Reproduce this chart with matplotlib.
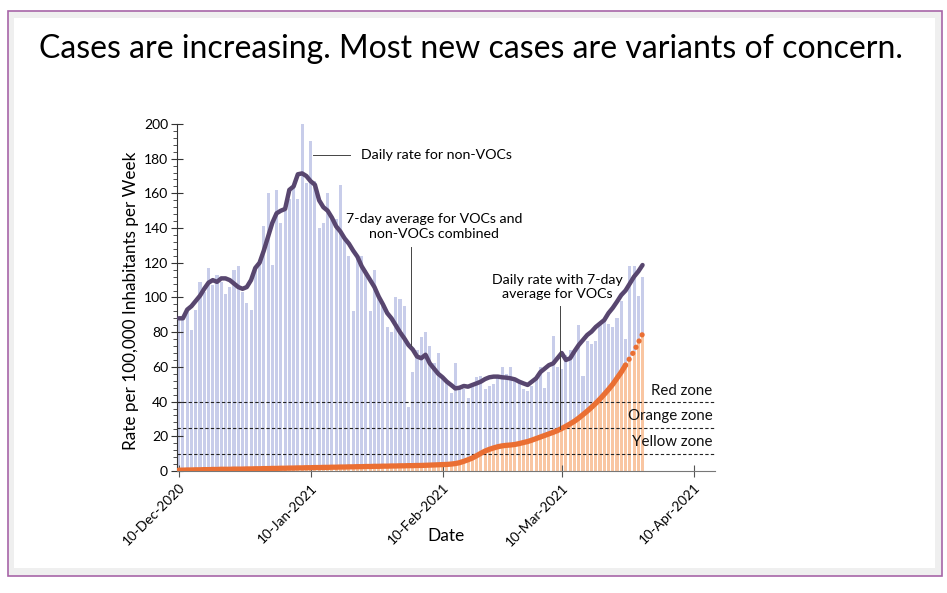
import matplotlib
matplotlib.use("Agg")
import matplotlib.pyplot as plt
import matplotlib.dates as mdates
from matplotlib.patches import Rectangle
from matplotlib.ticker import MultipleLocator
import pandas as pd

plt.rcParams['font.family'] = ['Lato', 'DejaVu Sans']

# ------------------------------------------------------------------------------------------
# data (one value per day, starting 10-Dec-2020)
start_date = "2020-12-10"

daily_rate = [88, 88, 92, 81, 93, 109, 103, 117, 107, 113,
              109, 102, 106, 116, 118, 103, 97, 93, 118, 120,
              141, 160, 119, 162, 143, 150, 157, 164, 157, 200,
              166, 190, 167, 140, 143, 160, 147, 145, 165, 135,
              124, 92, 123, 124, 116, 92, 116, 100, 95, 83,
              80, 100, 99, 95, 37, 57, 70, 77, 80, 72,
              62, 68, 54, 51, 45, 62, 49, 47, 42, 50,
              54, 55, 47, 49, 50, 54, 60, 56, 60, 52,
              51, 47, 46, 49, 54, 60, 48, 57, 78, 60,
              59, 67, 70, 70, 84, 55, 75, 73, 75, 84,
              87, 85, 83, 88, 98, 76, 118, 118, 101, 112]

voc_avg = [0.5, 0.5, 0.6, 0.6, 0.7, 0.7, 0.8, 0.8, 0.9, 0.9,
           1.0, 1.0, 1.0, 1.1, 1.1, 1.1, 1.2, 1.2, 1.3, 1.3,
           1.4, 1.4, 1.5, 1.5, 1.6, 1.6, 1.7, 1.7, 1.8, 1.8,
           1.9, 1.9, 2.0, 2.0, 2.1, 2.1, 2.2, 2.2, 2.3, 2.3,
           2.4, 2.4, 2.5, 2.5, 2.6, 2.6, 2.7, 2.7, 2.8, 2.8,
           2.9, 2.9, 3.0, 3.0, 3.1, 3.1, 3.2, 3.2, 3.3, 3.4,
           3.5, 3.6, 3.7, 3.8, 4.0, 4.3, 4.8, 5.6, 6.5, 7.5,
           8.8, 10.2, 11.5, 12.5, 13.3, 14.0, 14.5, 14.8, 15.0, 15.3,
           15.8, 16.4, 17.0, 17.8, 18.7, 19.6, 20.5, 21.4, 22.3, 23.3,
           24.5, 25.8, 27.2, 28.7, 30.5, 32.5, 34.5, 36.7, 39.0, 41.5,
           44.2, 47.0, 50.0, 53.5, 57.0, 61.0, 65.0, 69.0, 74.0, 79.0]

total_avg = [88, 88, 93, 95, 98, 101, 105, 108.5, 110, 109,
             111, 111, 110, 108, 106, 105, 106, 110, 117, 120,
             127, 135, 143, 148.5, 150, 151, 162, 164, 171, 171.5,
             170, 167, 165, 156, 152, 150, 146, 141, 138, 134,
             131, 127, 123.5, 118, 114, 110, 106, 100.5, 96, 91,
             88, 84, 80, 76.5, 72.6, 70, 66, 65, 67, 62,
             59, 56, 54, 51.5, 49.6, 47.6, 48, 49, 48.6, 49.6,
             50.5, 51.5, 53, 54, 54.4, 54.4, 54, 53.8, 53.4, 52.8,
             51.5, 50.5, 49.6, 51.5, 53.4, 57, 59, 61, 62, 65,
             68, 64, 65, 69, 72.6, 75.5, 78.4, 80.3, 83, 85,
             87, 91, 94, 97.6, 101.4, 104, 108, 112, 115, 118.7]

# last days of the VOC average are drawn dotted
n_voc_dotted = 4

zone_levels = [40, 25, 10]
zone_labels = ["Red zone", "Orange zone", "Yellow zone"]
zone_label_levels = [46, 31.5, 16.5]

tick_dates = ["2020-12-10", "2021-01-10", "2021-02-10", "2021-03-10", "2021-04-10"]
tick_labels = ["10-Dec-2020", "10-Jan-2021", "10-Feb-2021", "10-Mar-2021", "10-Apr-2021"]

# ------------------------------------------------------------------------------------------
dates = mdates.date2num(pd.date_range(start_date, periods=len(daily_rate), freq="D"))
non_voc = [t - v for t, v in zip(daily_rate, voc_avg)]

col_blue_bar = "#c8cdea"
col_orange_bar = "#f9c6a2"
col_purple = "#58466f"
col_orange = "#ea6f33"

fig = plt.figure(figsize=(9.47, 5.93), dpi=100)

# slide-like frame
fig.patches.append(Rectangle((0.0085, 0.0287), 0.9863, 0.9528, transform=fig.transFigure,
                             facecolor="#efefef", edgecolor="#a765a8", linewidth=1.2, zorder=-2))
fig.patches.append(Rectangle((0.0148, 0.0422), 0.9725, 0.9275, transform=fig.transFigure,
                             facecolor="white", edgecolor="none", zorder=-1))

fig.text(0.497, 0.918, "Cases are increasing. Most new cases are variants of concern.",
         ha="center", va="center", fontsize=23, color="black")

ax = fig.add_axes([0.1869, 0.2057, 0.568, 0.5853])
ax.set_zorder(2)
ax.set_facecolor("none")

ax.bar(dates, voc_avg, width=0.72, color=col_orange_bar, linewidth=0, zorder=1)
ax.bar(dates, non_voc, bottom=voc_avg, width=0.72, color=col_blue_bar, linewidth=0, zorder=1)

for lev in zone_levels:
    ax.axhline(lev, color="#222222", linestyle=(0, (3, 2)), linewidth=0.8, zorder=2)

ax.plot(dates, total_avg, color=col_purple, linewidth=3.2, solid_capstyle="round", zorder=4)
ax.plot(dates[:-n_voc_dotted], voc_avg[:-n_voc_dotted], color=col_orange, linewidth=3.8,
        solid_capstyle="round", zorder=3)
ax.plot(dates[-n_voc_dotted - 1:], voc_avg[-n_voc_dotted - 1:], color=col_orange, linewidth=3.8,
        linestyle=(0, (0.01, 1.3)), dash_capstyle="round", zorder=3)

x_right = mdates.date2num(pd.Timestamp("2021-04-15"))
for lab, lev in zip(zone_labels, zone_label_levels):
    ax.text(x_right - 0.6, lev, lab, ha="right", va="center", fontsize=10.8, color="#111111")

# annotations with leader lines
d0 = dates[0]
ax.plot([d0 + 31.6, d0 + 40.2], [182, 182], color="#444444", linewidth=0.7, zorder=5)
ax.text(d0 + 42.8, 182, "Daily rate for non-VOCs", ha="left", va="center", fontsize=10.2)

ax.plot([d0 + 54.5, d0 + 54.5], [129, 72], color="#444444", linewidth=0.7, zorder=5)
ax.text(d0 + 60, 141, "7-day average for VOCs and\nnon-VOCs combined", ha="center", va="center",
        fontsize=10.2, linespacing=1.25)

ax.plot([d0 + 89.7, d0 + 89.7], [95, 24], color="#444444", linewidth=0.7, zorder=5)
ax.text(d0 + 89, 106, "Daily rate with 7-day\naverage for VOCs", ha="center", va="center",
        fontsize=10.2, linespacing=1.25)

ax.set_xlim(d0 - 0.4, x_right)
ax.set_ylim(0, 200)

ax.set_xticks(mdates.date2num(pd.to_datetime(tick_dates)))
ax.set_xticklabels(tick_labels, rotation=45, ha="right", rotation_mode="anchor", fontsize=9.8)
ax.yaxis.set_major_locator(MultipleLocator(20))
ax.yaxis.set_minor_locator(MultipleLocator(4))
ax.tick_params(axis="x", direction="inout", length=9, width=0.8, color="#555555", pad=3)
ax.tick_params(axis="y", which="major", direction="inout", length=9, width=0.8,
               color="#333333", labelsize=10, pad=2)
ax.tick_params(axis="y", which="minor", direction="out", length=3, width=0.6, color="#333333")

for side in ["top", "right"]:
    ax.spines[side].set_visible(False)
ax.spines["left"].set_color("#333333")
ax.spines["bottom"].set_color("#777777")
ax.spines["left"].set_linewidth(0.8)
ax.spines["bottom"].set_linewidth(0.8)

ax.set_ylabel("Rate per 100,000 Inhabitants per Week", fontsize=12.3)
ax.yaxis.set_label_coords(-0.07, 0.49)
ax.set_xlabel("Date", fontsize=12.5)
ax.xaxis.set_label_coords(0.5, -0.165)

fig.savefig("out.png", dpi=100)
